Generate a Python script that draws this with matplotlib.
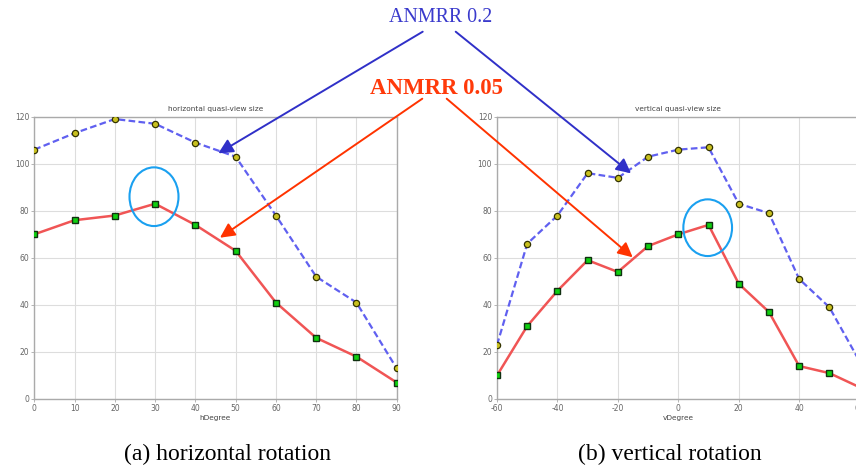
import matplotlib
matplotlib.use("Agg")
import matplotlib.pyplot as plt
from matplotlib.patches import FancyArrowPatch, Ellipse

plt.rcParams["axes.unicode_minus"] = False

# ---- data ----
h_deg = [0, 10, 20, 30, 40, 50, 60, 70, 80, 90]
h_anmrr02 = [106, 113, 119, 117, 109, 103, 78, 52, 41, 13]
h_anmrr005 = [70, 76, 78, 83, 74, 63, 41, 26, 18, 7]

v_deg = [-60, -50, -40, -30, -20, -10, 0, 10, 20, 30, 40, 50, 60]
v_anmrr02 = [23, 66, 78, 96, 94, 103, 106, 107, 83, 79, 51, 39, 16]
v_anmrr005 = [10, 31, 46, 59, 54, 65, 70, 74, 49, 37, 14, 11, 5]

y_ticks = [0, 20, 40, 60, 80, 100, 120]
h_ticks = [0, 10, 20, 30, 40, 50, 60, 70, 80, 90]
v_ticks = [-60, -40, -20, 0, 20, 40, 60]

W, H = 856, 470
fig = plt.figure(figsize=(W / 100, H / 100), dpi=100)
fig.patch.set_facecolor("white")


def fx(x):
    return x / W


def fy(y):
    return 1 - y / H


BLUE_LINE = "#6060f0"
RED_LINE = "#f05555"


def make_axes(rect, x, b, r, xlim, xticks, title, xlabel):
    ax = fig.add_axes(rect)
    ax.plot(x, b, linestyle=(0, (3, 1.5)), color=BLUE_LINE, lw=1.6, marker="o",
            markersize=4.5, markerfacecolor="#c8c020", markeredgecolor="#333300",
            markeredgewidth=0.9, zorder=3)
    ax.plot(x, r, linestyle="-", color=RED_LINE, lw=1.8, marker="s",
            markersize=5, markerfacecolor="#10d010", markeredgecolor="#103010",
            markeredgewidth=1.0, zorder=3)
    ax.set_xlim(*xlim)
    ax.set_ylim(0, 120)
    ax.set_xticks(xticks)
    ax.set_yticks(y_ticks)
    ax.grid(True, color="#dddddd", lw=0.8)
    for s in ax.spines.values():
        s.set_color("#aaaaaa")
        s.set_linewidth(1.0)
    ax.tick_params(labelsize=5.5, colors="#aaaaaa", labelcolor="#666666",
                   length=2, width=0.6, pad=1.5)
    ax.set_title(title, fontsize=5.3, color="#444444", pad=4)
    ax.set_xlabel(xlabel, fontsize=5.3, color="#444444", labelpad=1.5)
    return ax


ax1 = make_axes([fx(34.3), fy(399), fx(396.7 - 34.3), (399 - 116.7) / H],
                h_deg, h_anmrr02, h_anmrr005, (0, 90), h_ticks,
                "horizontal quasi-view size", "hDegree")
ax2 = make_axes([fx(497), fy(399), fx(362.6), (399 - 116.7) / H],
                v_deg, v_anmrr02, v_anmrr005, (-60, 60), v_ticks,
                "vertical quasi-view size", "vDegree")

# ---- captions ----
fig.text(fx(227), fy(454), "(a) horizontal rotation", family="Liberation Serif",
         fontsize=17, ha="center", va="center")
fig.text(fx(670), fy(454), "(b) vertical rotation", family="Liberation Serif",
         fontsize=17, ha="center", va="center")

# ---- annotations ----
BLUE_TXT = "#3a3acc"
RED_TXT = "#ff3a0a"
fig.text(fx(441), fy(18), "ANMRR 0.2", family="Liberation Serif", fontsize=14.4,
         color=BLUE_TXT, ha="center", va="center")
fig.text(fx(437), fy(88), "ANMRR 0.05", family="Liberation Serif", fontsize=16.5,
         fontweight="bold", color=RED_TXT, ha="center", va="center")


def arrow(x0, y0, x1, y1, color):
    a = FancyArrowPatch((fx(x0), fy(y0)), (fx(x1), fy(y1)),
                        transform=fig.transFigure, arrowstyle="-|>",
                        mutation_scale=22, color=color, lw=1.4,
                        shrinkA=0, shrinkB=0, zorder=10)
    fig.add_artist(a)


arrow(422.7, 31.7, 218.3, 153.3, "#3030c8")
arrow(455.7, 31.7, 631, 173.3, "#3030c8")
arrow(422.3, 98.7, 220, 237.7, "#ff3300")
arrow(446.7, 98.7, 632.7, 257.3, "#ff3300")

for cx, cy, w, h in [(154, 196.7, 49, 58.7), (707.7, 227.7, 48.7, 56.7)]:
    e = Ellipse((fx(cx), fy(cy)), w / W, h / H, transform=fig.transFigure,
                fill=False, edgecolor="#1aa0f0", lw=1.5, zorder=10)
    fig.add_artist(e)

fig.savefig("out.png", dpi=100)
